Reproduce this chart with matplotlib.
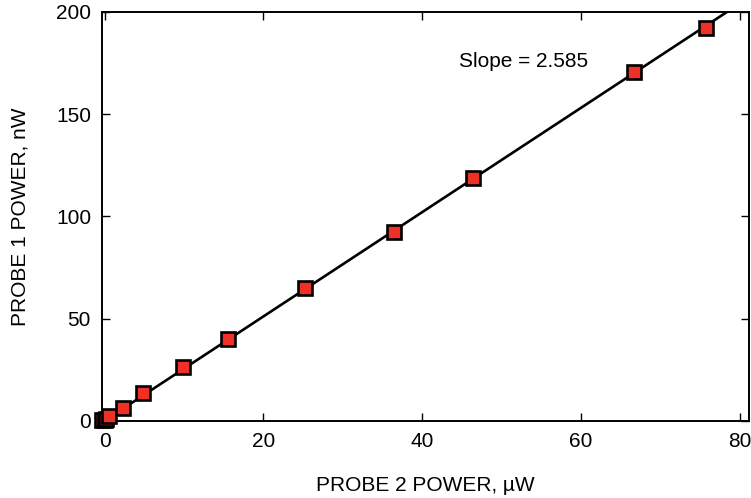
import numpy as np
import matplotlib
matplotlib.use("Agg")
import matplotlib.pyplot as plt

plt.rcParams['font.family'] = ['Liberation Sans', 'DejaVu Sans']

# leituras do gráfico
probe2_uw = [-0.3, 0.0, 0.2, 0.6, 2.3, 4.9, 9.9, 15.6, 25.2, 36.5, 46.4, 66.7, 75.7]
probe1_nw = [0.3, 0.6, 1.0, 2.5, 6.4, 13.7, 26.5, 40.2, 65.2, 92.6, 119.0, 170.6, 192.2]
slope_label = "Slope = 2.585"

fig = plt.figure(figsize=(7.51, 4.98), dpi=100)
ax = fig.add_axes([0.136, 0.155, 0.861, 0.821])

# reta ajustada pela origem
k = np.sum(np.array(probe2_uw) * np.array(probe1_nw)) / np.sum(np.array(probe2_uw) ** 2)
xx = np.array([0, 82])
ax.plot(xx, k * xx, color="black", lw=1.9, zorder=2)

ax.plot(probe2_uw, probe1_nw, ls="none", marker="s", ms=10, mfc="#ee3124",
        mec="black", mew=1.9, zorder=3, clip_on=False)

ax.text(52.7, 176, slope_label, fontsize=15, ha="center", va="center")

ax.set_xlim(-0.3, 81.1)
ax.set_ylim(0, 200)
ax.set_xticks([0, 20, 40, 60, 80])
ax.set_yticks([0, 50, 100, 150, 200])
ax.tick_params(direction="in", length=6, width=1, top=True, right=True,
               labelsize=15, pad=8)
for s in ax.spines.values():
    s.set_linewidth(1.4)

ax.set_xlabel("PROBE 2 POWER, µW", fontsize=15, labelpad=18)
ax.set_ylabel("PROBE 1 POWER, nW", fontsize=15, labelpad=19)

fig.savefig("out.png", dpi=100)
